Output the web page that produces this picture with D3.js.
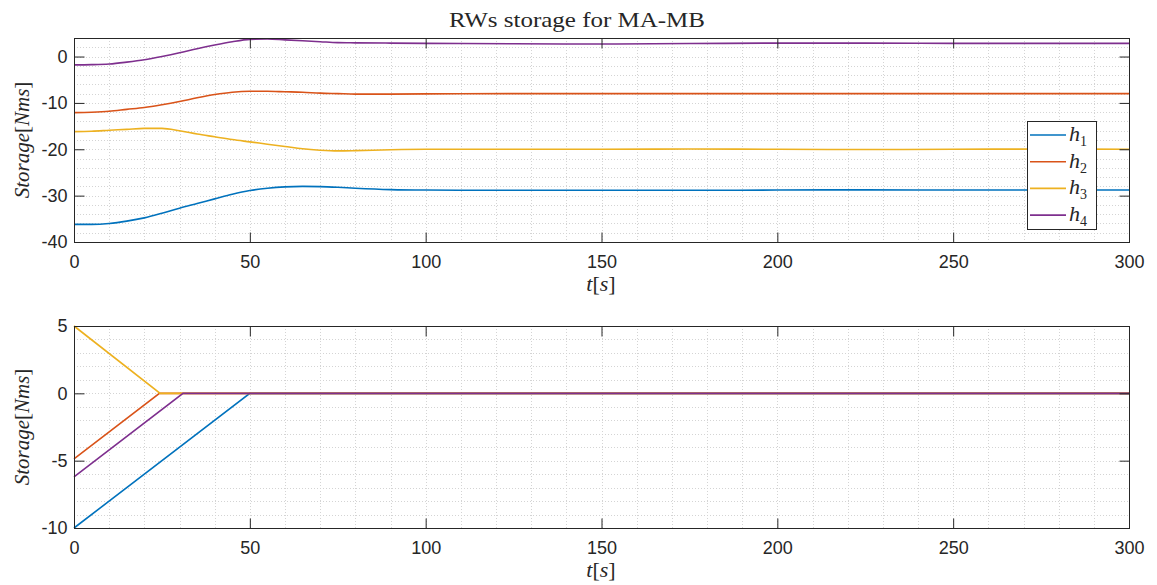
<!DOCTYPE html>
<html>
<head>
<meta charset="utf-8">
<script src="https://cdn.jsdelivr.net/npm/d3@7"></script>
<style>
  body { margin: 0; background: #fff; }
  svg { display: block; }
  .tick-label { font-family: 'Liberation Sans', Arial, sans-serif; font-size: 18px; fill: #262626; }
  .tex { font-family: 'Liberation Serif', 'Times New Roman', serif; fill: #262626; }
</style>
</head>
<body>
<svg width="1157" height="585"></svg>
<script>
const width = 1157
const height = 585

const seriesNames = ['h1', 'h2', 'h3', 'h4']
const colors = ['#0072BD', '#D95319', '#EDB120', '#7E2F8E']

// top panel: wheel storage
const tTop = [0, 5, 10, 15, 20, 25, 30, 35, 40, 45, 50, 55, 60, 65, 70, 75, 80, 90, 100, 125, 150, 175, 200, 225, 250, 275, 300]
const h1Top = [-36.2, -36.2, -36.0, -35.5, -34.8, -33.8, -32.7, -31.7, -30.7, -29.7, -28.9, -28.4, -28.1, -28.0, -28.05, -28.2, -28.4, -28.7, -28.8, -28.85, -28.85, -28.85, -28.8, -28.75, -28.8, -28.8, -28.8]
const h2Top = [-12.1, -12.0, -11.8, -11.4, -11.0, -10.4, -9.7, -8.9, -8.2, -7.7, -7.5, -7.5, -7.6, -7.7, -7.9, -8.0, -8.1, -8.1, -8.05, -8.0, -8.0, -8.0, -8.0, -8.0, -8.0, -8.0, -8.0]
const h3Top = [-16.2, -16.1, -15.9, -15.7, -15.5, -15.5, -16.0, -16.7, -17.3, -17.9, -18.4, -18.9, -19.4, -19.9, -20.2, -20.35, -20.3, -20.1, -20.0, -20.0, -20.0, -19.95, -20.0, -20.05, -20.0, -19.95, -20.0]
const h4Top = [-1.8, -1.75, -1.6, -1.2, -0.7, 0.0, 0.8, 1.7, 2.5, 3.2, 3.7, 3.8, 3.6, 3.4, 3.2, 3.0, 2.95, 2.9, 2.85, 2.75, 2.7, 2.8, 2.9, 2.9, 2.85, 2.85, 2.85]

// bottom panel: piecewise linear breakpoints
const h1BotT = [0, 50, 300]
const h1Bot = [-10, 0, 0]
const h2BotT = [0, 24.3, 300]
const h2Bot = [-4.86, 0, 0]
const h3BotT = [0, 24.5, 300]
const h3Bot = [5, 0, 0]
const h4BotT = [0, 31, 300]
const h4Bot = [-6.2, 0, 0]

const xTicks = [0, 50, 100, 150, 200, 250, 300]
const yTicksTop = [-40, -30, -20, -10, 0]
const yTicksBot = [-10, -5, 0, 5]

const svg = d3.select('svg')

const axisColor = '#262626'
const gridColor = '#d4d4d4'

// plain hyphen minus, like the original
const numFmt = d => String(d)

function drawPanel(opts) {
  const { top, bottom, yDomain, yTicks, yMinorStep, series, curve } = opts
  const left = 74
  const right = 1129

  const x = d3.scaleLinear().domain([0, 300]).range([left, right])
  const y = d3.scaleLinear().domain(yDomain).range([bottom, top])

  const g = svg.append('g')

  // minor + major grid (dotted)
  const xGrid = d3.range(10, 300, 10)
  g.selectAll('.vgrid')
    .data(xGrid)
    .enter().append('line')
    .attr('x1', d => Math.round(x(d)) + 0.5)
    .attr('x2', d => Math.round(x(d)) + 0.5)
    .attr('y1', top)
    .attr('y2', bottom)
    .attr('stroke', gridColor)
    .attr('stroke-width', 1)
    .attr('stroke-dasharray', '1,2')

  const yGrid = d3.range(yDomain[0] + yMinorStep, yDomain[1] - 1e-6, yMinorStep)
  g.selectAll('.hgrid')
    .data(yGrid)
    .enter().append('line')
    .attr('x1', left)
    .attr('x2', right)
    .attr('y1', d => Math.round(y(d)) + 0.5)
    .attr('y2', d => Math.round(y(d)) + 0.5)
    .attr('stroke', gridColor)
    .attr('stroke-width', 1)
    .attr('stroke-dasharray', '1,2')

  // lines
  const line = d3.line()
    .x(d => x(d[0]))
    .y(d => y(d[1]))
    .curve(curve)

  series.forEach((s, i) => {
    g.append('path')
      .datum(s)
      .attr('fill', 'none')
      .attr('stroke', colors[i])
      .attr('stroke-width', 1.6)
      .attr('d', line)
  })

  // box
  g.append('rect')
    .attr('x', left + 0.5)
    .attr('y', top + 0.5)
    .attr('width', right - left)
    .attr('height', bottom - top)
    .attr('fill', 'none')
    .attr('stroke', axisColor)
    .attr('stroke-width', 1)

  // axes (ticks inside, mirrored)
  const tickLen = 10
  const xAxis = d3.axisBottom(x).tickValues(xTicks).tickSize(-tickLen).tickPadding(13).tickFormat(numFmt)
  const xAxisTop = d3.axisTop(x).tickValues(xTicks).tickSize(-tickLen).tickFormat('')
  const yAxis = d3.axisLeft(y).tickValues(yTicks).tickSize(-tickLen).tickPadding(7).tickFormat(numFmt)
  const yAxisRight = d3.axisRight(y).tickValues(yTicks).tickSize(-tickLen).tickFormat('')

  const styleAxis = sel => {
    sel.select('.domain').remove()
    sel.selectAll('.tick line').attr('stroke', axisColor)
    sel.selectAll('.tick text').attr('class', 'tick-label').attr('fill', axisColor)
  }

  g.append('g').attr('transform', `translate(0,${bottom + 0.5})`).call(xAxis).call(styleAxis)
  g.append('g').attr('transform', `translate(0,${top + 0.5})`).call(xAxisTop).call(styleAxis)
  g.append('g').attr('transform', `translate(${left + 0.5},0)`).call(yAxis).call(styleAxis)
  g.append('g').attr('transform', `translate(${right + 0.5},0)`).call(yAxisRight).call(styleAxis)

  // x label t[s]
  const xl = g.append('text')
    .attr('class', 'tex')
    .attr('x', 601)
    .attr('y', bottom + 49)
    .attr('text-anchor', 'middle')
    .style('font-size', '22px')
  xl.append('tspan').style('font-style', 'italic').text('t')
  xl.append('tspan').text('[')
  xl.append('tspan').style('font-style', 'italic').text('s')
  xl.append('tspan').text(']')

  // y label Storage[Nms]
  const yl = g.append('text')
    .attr('class', 'tex')
    .attr('transform', `translate(29,${(top + bottom) / 2}) rotate(-90)`)
    .attr('text-anchor', 'middle')
    .style('font-size', '21px')
  yl.append('tspan').style('font-style', 'italic').text('Storage')
  yl.append('tspan').text('[')
  yl.append('tspan').style('font-style', 'italic').text('Nms')
  yl.append('tspan').text(']')

  return { x, y, g }
}

const topSeries = [h1Top, h2Top, h3Top, h4Top].map(v => v.map((d, i) => [tTop[i], d]))
const botSeries = [[h1BotT, h1Bot], [h2BotT, h2Bot], [h3BotT, h3Bot], [h4BotT, h4Bot]]
  .map(([t, v]) => v.map((d, i) => [t[i], d]))

drawPanel({
  top: 38,
  bottom: 242,
  yDomain: [-40, 4],
  yTicks: yTicksTop,
  yMinorStep: 2,
  series: topSeries,
  curve: d3.curveMonotoneX
})

drawPanel({
  top: 326,
  bottom: 528,
  yDomain: [-10, 5],
  yTicks: yTicksBot,
  yMinorStep: 1,
  series: botSeries,
  curve: d3.curveLinear
})

// title
svg.append('text')
  .attr('class', 'tex')
  .attr('x', 577)
  .attr('y', 27)
  .attr('text-anchor', 'middle')
  .attr('textLength', 256)
  .attr('lengthAdjust', 'spacingAndGlyphs')
  .style('font-size', '22px')
  .text('RWs storage for MA-MB')

// legend
const legend = svg.append('g').attr('transform', 'translate(1027,121)')
legend.append('rect')
  .attr('x', 0.5)
  .attr('y', 0.5)
  .attr('width', 69)
  .attr('height', 108)
  .attr('fill', '#fff')
  .attr('stroke', axisColor)
  .attr('stroke-width', 1)

seriesNames.forEach((name, i) => {
  const ry = 14 + i * 26.7
  legend.append('line')
    .attr('x1', 3)
    .attr('x2', 39)
    .attr('y1', ry)
    .attr('y2', ry)
    .attr('stroke', colors[i])
    .attr('stroke-width', 1.6)
  const t = legend.append('text')
    .attr('class', 'tex')
    .attr('x', 42)
    .attr('y', ry + 6)
    .style('font-size', '22px')
  t.append('tspan').style('font-style', 'italic').text('h')
  t.append('tspan').attr('dy', 5).style('font-size', '14px').text(name.slice(1))
})
</script>
</body>
</html>
